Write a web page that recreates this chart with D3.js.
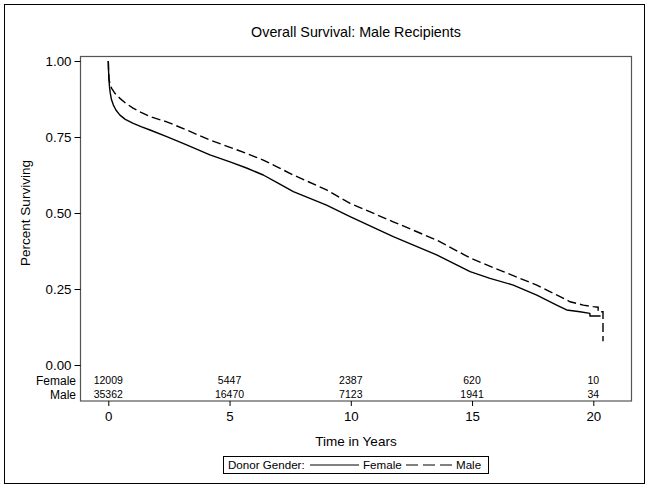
<!DOCTYPE html>
<html><head><meta charset="utf-8">
<script src="https://cdn.jsdelivr.net/npm/d3@7"></script>
<style>
html,body{margin:0;padding:0;background:#fff;}
svg text{font-family:"Liberation Sans",Arial,sans-serif;fill:#000;}
</style></head>
<body><svg id="c" width="649" height="488"></svg>
<script>
const title = "Overall Survival: Male Recipients";
const xTicks = [0, 5, 10, 15, 20];
const yTicks = [0, 0.25, 0.5, 0.75, 1];
const riskGroups = ["Female", "Male"];
const riskFemale = [12009, 5447, 2387, 620, 10];
const riskMale = [35362, 16470, 7123, 1941, 34];

const femaleTime = [0, 0.01, 0.03, 0.05, 0.08, 0.13, 0.21, 0.32, 0.48, 0.7, 1.03, 1.35, 1.72, 2.41, 3.23, 4.19, 5.02, 5.7, 6.39, 7.0, 7.63, 9.0, 9.97, 11.75, 13.54, 14.92, 15.74, 16.7, 17.67, 18.49, 18.9, 19.45, 19.86, 19.86, 20.3];
const femaleSurv = [1.0, 0.97, 0.935, 0.915, 0.895, 0.873, 0.855, 0.838, 0.822, 0.808, 0.795, 0.784, 0.773, 0.751, 0.724, 0.691, 0.668, 0.648, 0.625, 0.598, 0.570, 0.526, 0.488, 0.422, 0.362, 0.307, 0.285, 0.263, 0.230, 0.197, 0.181, 0.175, 0.170, 0.161, 0.161];

const maleTime = [0, 0.01, 0.03, 0.07, 0.14, 0.28, 0.48, 0.72, 1.02, 1.35, 1.72, 2.41, 3.23, 4.19, 5.02, 5.7, 6.39, 7.0, 7.63, 9.0, 9.97, 11.75, 13.54, 14.92, 16.29, 17.67, 18.63, 19.04, 19.59, 20.0, 20.2, 20.2, 20.4, 20.4];
const maleSurv = [1.0, 0.97, 0.94, 0.925, 0.91, 0.893, 0.877, 0.861, 0.845, 0.831, 0.817, 0.80, 0.773, 0.740, 0.716, 0.696, 0.674, 0.650, 0.625, 0.576, 0.532, 0.471, 0.411, 0.352, 0.307, 0.263, 0.225, 0.208, 0.197, 0.192, 0.19, 0.175, 0.175, 0.078];

const svg = d3.select("#c");
const F = '"Liberation Sans",Arial,sans-serif';

// outer border
svg.append("rect").attr("x",4.5).attr("y",4.5).attr("width",640).attr("height",479)
  .attr("fill","none").attr("stroke","#000").attr("stroke-width",1);

const x = d3.scaleLinear().domain([0,20]).range([108.3, 593.3]);
const y = d3.scaleLinear().domain([0,1]).range([365, 61]);

// title
svg.append("text").attr("x",356).attr("y",37).attr("text-anchor","middle")
  .style("font-size","14.3px").text(title);

// frame
svg.append("rect").attr("x",80.5).attr("y",56.5).attr("width",551).attr("height",344.5)
  .attr("fill","none").attr("stroke","#555").attr("stroke-width",1.2);

// y axis
const ya = svg.append("g").attr("transform","translate(80.5,0)")
  .call(d3.axisLeft(y).tickValues(yTicks).tickFormat(d3.format(".2f")).tickSize(6).tickPadding(3));
ya.select(".domain").remove();
ya.selectAll(".tick line").attr("stroke","#000");
ya.selectAll("text").style("font-size","13.3px").style("font-family",F).attr("fill","#000");

// x axis
const xa = svg.append("g").attr("transform","translate(0,401)")
  .call(d3.axisBottom(x).tickValues(xTicks).tickFormat(d3.format("d")).tickSize(5).tickPadding(6));
xa.select(".domain").remove();
xa.selectAll(".tick line").attr("stroke","#000");
xa.selectAll("text").style("font-size","13.3px").style("font-family",F).attr("fill","#000");

// axis titles
svg.append("text").attr("x",356).attr("y",446).attr("text-anchor","middle")
  .style("font-size","13.5px").text("Time in Years");
svg.append("text").attr("transform","translate(30,213) rotate(-90)").attr("text-anchor","middle")
  .style("font-size","13.5px").text("Percent Surviving");

// at-risk table
const rowY = [385, 399];
const risks = [riskFemale, riskMale];
riskGroups.forEach((g,i)=>{
  svg.append("text").attr("x",76).attr("y",rowY[i]).attr("text-anchor","end")
    .style("font-size","12px").text(g);
  svg.selectAll(null).data(risks[i]).enter().append("text")
    .attr("x",(d,j)=>x(xTicks[j])).attr("y",rowY[i]-1.5).attr("text-anchor","middle")
    .style("font-size","10.5px").text(d=>d);
});

// curves
const line = d3.line().x(d=>x(d[0])).y(d=>y(d[1]));
const fData = femaleTime.map((t,i)=>[t,femaleSurv[i]]);
const mData = maleTime.map((t,i)=>[t,maleSurv[i]]);
svg.append("path").attr("d",line(fData)).attr("fill","none").attr("stroke","#000").attr("stroke-width",1.4).attr("stroke-linejoin","round");
svg.append("path").attr("d",line(mData)).attr("fill","none").attr("stroke","#000").attr("stroke-width",1.4)
  .attr("stroke-dasharray","9,4");

// legend
const lg = svg.append("g");
lg.append("rect").attr("x",223.5).attr("y",456.5).attr("width",265).attr("height",17)
  .attr("fill","none").attr("stroke","#000").attr("stroke-width",1);
lg.append("text").attr("x",228).attr("y",469).style("font-size","11.6px").text("Donor Gender:");
lg.append("line").attr("x1",310).attr("x2",359).attr("y1",465).attr("y2",465).attr("stroke","#000").attr("stroke-width",1);
lg.append("text").attr("x",363).attr("y",469).style("font-size","11.6px").text("Female");
lg.append("line").attr("x1",406).attr("x2",453).attr("y1",465).attr("y2",465).attr("stroke","#000").attr("stroke-width",1)
  .attr("stroke-dasharray","12,5");
lg.append("text").attr("x",456).attr("y",469).style("font-size","11.6px").text("Male");
</script></body></html>
